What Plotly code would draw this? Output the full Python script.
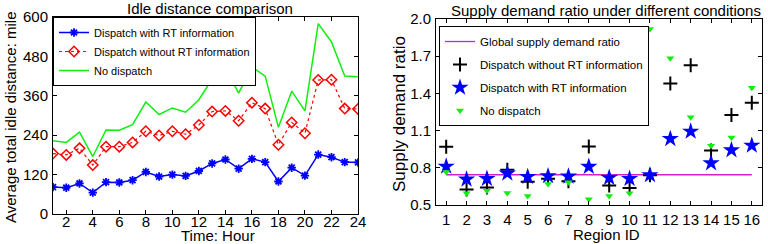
import plotly.graph_objects as go

# ---------------- data ----------------
hours = list(range(1, 25))
idle_with_rt = [82, 80, 93, 65, 97, 96, 103, 128, 114, 120, 116, 131,
                154, 166, 138, 168, 158, 99, 141, 117, 181, 173, 158, 157]
idle_without_rt = [184, 180, 200, 149, 205, 205, 218, 252, 239, 252, 243, 271,
                   312, 314, 284, 339, 321, 211, 279, 246, 408, 409, 321, 320]
idle_no_dispatch = [223, 218, 249, 175, 256, 255, 272, 341, 303, 323, 310, 348,
                    411, 445, 368, 448, 420, 264, 374, 314, 580, 524, 420, 418]

regions = list(range(1, 17))
global_ratio = 0.744
sdr_without_rt = [0.970, 0.624, 0.642, 0.785, 0.688, 0.712, 0.691, 0.972,
                  0.658, 0.637, 0.739, 1.479, 1.627, 0.940, 1.225, 1.324]
sdr_with_rt = [0.811, 0.707, 0.712, 0.755, 0.728, 0.734, 0.731, 0.809,
               0.720, 0.712, 0.742, 1.034, 1.093, 0.838, 0.943, 0.980]
sdr_no_dispatch = [0.766, 0.594, 0.615, 0.597, 0.573, 0.669, 0.683, 0.546,
                   0.573, 0.594, 1.920, 1.683, 1.208, 0.978, 1.045, 1.445]

left_xticks = list(range(2, 25, 2))
left_yticks = [0, 120, 240, 360, 480, 600]
right_yticks = [0.5, 0.8, 1.1, 1.4, 1.7, 2.0]

FONT = "Liberation Sans, Arial, Helvetica, sans-serif"
GREEN = "#11ee11"
W, H = 768, 244

fig = go.Figure()

# ---------------- left panel ----------------
fig.add_trace(go.Scatter(
    x=hours, y=idle_with_rt, name="Dispatch with RT information",
    mode="lines+markers", line=dict(color="blue", width=1.5),
    marker=dict(symbol="asterisk-open", size=7, color="blue",
                line=dict(color="blue", width=1.8)),
    xaxis="x", yaxis="y", legend="legend"))
fig.add_trace(go.Scatter(
    x=hours, y=idle_without_rt, name="Dispatch without RT information",
    mode="lines+markers", line=dict(color="red", width=1.2, dash="dot"),
    marker=dict(symbol="diamond-open", size=8, color="red", line=dict(color="red", width=1.5)),
    xaxis="x", yaxis="y", legend="legend"))
fig.add_trace(go.Scatter(
    x=hours, y=idle_no_dispatch, name="No dispatch",
    mode="lines", line=dict(color=GREEN, width=1.5),
    xaxis="x", yaxis="y", legend="legend"))

# ---------------- right panel ----------------
fig.add_trace(go.Scatter(
    x=regions, y=[global_ratio] * len(regions), name="Global supply demand ratio",
    mode="lines", line=dict(color="#cc22cc", width=1.3),
    xaxis="x2", yaxis="y2", legend="legend2", legendgroup="g1"))
fig.add_trace(go.Scatter(
    x=regions, y=sdr_without_rt, name="Dispatch without RT information",
    mode="markers",
    marker=dict(symbol="cross-thin-open", size=10, color="black",
                line=dict(color="black", width=2)),
    xaxis="x2", yaxis="y2", legend="legend2", legendgroup="g2"))
fig.add_trace(go.Scatter(
    x=regions, y=sdr_with_rt, name="Dispatch with RT information",
    mode="markers", marker=dict(symbol="star", size=13, color="blue", line=dict(width=0)),
    xaxis="x2", yaxis="y2", legend="legend2", legendgroup="g3"))
fig.add_trace(go.Scatter(
    x=regions, y=sdr_no_dispatch, name="No dispatch",
    mode="markers", marker=dict(symbol="triangle-down", size=7, color=GREEN, line=dict(width=0)),
    xaxis="x2", yaxis="y2", legend="legend2", legendgroup="g4"))

axis_common = dict(showline=True, linecolor="black", linewidth=1, mirror="ticks",
                   ticks="inside", ticklen=4, tickcolor="black", showgrid=False,
                   zeroline=False, tickfont=dict(family=FONT, size=15, color="black"))

def py(px):
    return (H - px) / H

fig.update_layout(
    width=W, height=H, margin=dict(l=0, r=0, t=0, b=0, autoexpand=False),
    paper_bgcolor="white", plot_bgcolor="white",
    font=dict(family=FONT, color="black"),
    xaxis=dict(domain=[53 / W, 358 / W], range=[1, 24], tickvals=left_xticks,
               anchor="y", ticklabelstandoff=-6, **axis_common),
    yaxis=dict(domain=[py(214), py(17)], range=[0, 600], tickvals=left_yticks,
               anchor="x", ticklabelstandoff=1, **axis_common),
    xaxis2=dict(domain=[436 / W, 762 / W], range=[0.5, 16.5], tickvals=regions,
                anchor="y2", ticklabelstandoff=1, **axis_common),
    yaxis2=dict(domain=[py(205), py(19)], range=[0.5, 2.0], tickvals=right_yticks,
                tickformat=".1f", anchor="x2", ticklabelstandoff=1, **axis_common),
    legend=dict(x=53 / W, y=py(17), xanchor="left", yanchor="top",
                bgcolor="white", bordercolor="black", borderwidth=1,
                font=dict(family=FONT, size=11), itemwidth=30,
                tracegroupgap=0),
    legend2=dict(x=439 / W, y=py(26), xanchor="left", yanchor="top",
                 bgcolor="white", bordercolor="black", borderwidth=1,
                 font=dict(family=FONT, size=11.5), itemwidth=30,
                 traceorder="grouped", tracegroupgap=4),
    showlegend=True,
)

ann = []
ann.append(dict(text="Idle distance comparison", x=210 / W, y=py(8), xref="paper", yref="paper",
                xanchor="center", yanchor="middle", showarrow=False,
                font=dict(family=FONT, size=15)))
ann.append(dict(text="Supply demand ratio under different conditions", x=606 / W, y=py(10),
                xref="paper", yref="paper", xanchor="center", yanchor="middle",
                showarrow=False, font=dict(family=FONT, size=15)))
ann.append(dict(text="Average total idle distance: mile", x=10 / W, y=py(117), xref="paper",
                yref="paper", xanchor="center", yanchor="middle", textangle=-90,
                showarrow=False, font=dict(family=FONT, size=15)))
ann.append(dict(text="Supply demand ratio", x=400 / W, y=py(114), xref="paper",
                yref="paper", xanchor="center", yanchor="middle", textangle=-90,
                showarrow=False, font=dict(family=FONT, size=17)))
ann.append(dict(text="Time: Hour", x=218 / W, y=py(246), xref="paper", yref="paper",
                xanchor="center", yanchor="bottom", showarrow=False,
                font=dict(family=FONT, size=15)))
ann.append(dict(text="Region ID", x=606 / W, y=py(234), xref="paper", yref="paper",
                xanchor="center", yanchor="middle", showarrow=False,
                font=dict(family=FONT, size=15)))
fig.update_layout(annotations=ann)

fig.write_html("out.html")
